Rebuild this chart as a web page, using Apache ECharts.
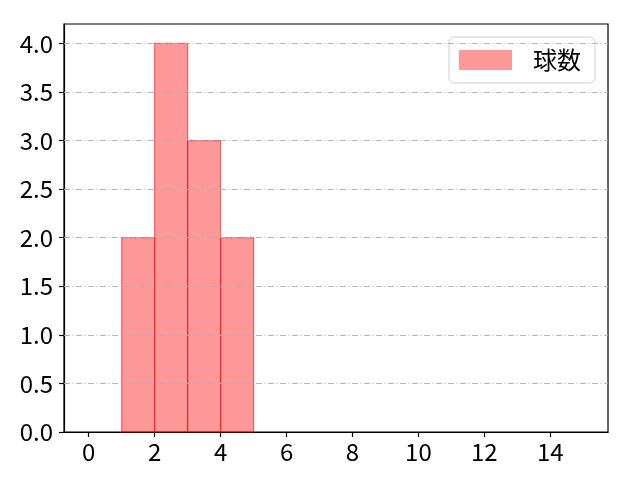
<!DOCTYPE html>
<html><head><meta charset="utf-8">
<script src="https://cdn.jsdelivr.net/npm/echarts@6/dist/echarts.min.js"></script>
<style>html,body{margin:0;padding:0;background:#fff}#c{width:640px;height:480px}</style>
</head><body><div id="c"></div>
<script>
var binStarts = [1, 2, 3, 4];
var binEnds = [2, 3, 4, 5];
var counts = [2, 4, 3, 2];
var xTicks = [0, 2, 4, 6, 8, 10, 12, 14];
var yTicks = [0, 0.5, 1.0, 1.5, 2.0, 2.5, 3.0, 3.5, 4.0];
var seriesName = '球数';

var FONT = 'Noto Sans CJK JP';
var data = binStarts.map(function (s, i) { return [s, binEnds[i], counts[i]]; });

var chart = echarts.init(document.getElementById('c'));
chart.setOption({
  animation: false,
  backgroundColor: '#fff',
  grid: { left: 64, right: 32, top: 24, bottom: 48, show: true, borderColor: '#000', borderWidth: 1.2, backgroundColor: 'transparent' },
  legend: {
    show: true, right: 45, top: 37,
    data: [{ name: seriesName, icon: 'rect' }],
    itemWidth: 53, itemHeight: 20, itemGap: 10,
    padding: [11, 14, 11, 10],
    borderColor: '#d0d0d0', borderWidth: 1, borderRadius: 5,
    backgroundColor: '#fff',
    textStyle: { fontFamily: FONT, fontSize: 24, color: '#000', padding: [0, 0, 0, 16] }
  },
  xAxis: {
    type: 'value', min: -0.75, max: 15.75,
    splitLine: { show: false },
    axisLine: { show: true, onZero: false, lineStyle: { color: '#000', width: 1.2 } },
    axisTick: { show: true, length: 5, lineStyle: { color: '#000', width: 1.2 }, customValues: xTicks },
    axisLabel: { show: true, fontFamily: FONT, fontSize: 24, color: '#000', margin: 8, customValues: xTicks, formatter: function (v) { return String(v); } }
  },
  yAxis: {
    type: 'value', min: 0, max: 4.2,
    splitLine: { show: false },
    axisLine: { show: true, onZero: false, lineStyle: { color: '#000', width: 1.2 } },
    axisTick: { show: true, length: 5, lineStyle: { color: '#000', width: 1.2 }, customValues: yTicks },
    axisLabel: { show: true, fontFamily: FONT, fontSize: 24, color: '#000', margin: 11, customValues: yTicks, formatter: function (v) { return v.toFixed(1); } }
  },
  series: [
    {
      type: 'line', name: '_grid', silent: true, data: [], legendHoverLink: false,
      markLine: {
        silent: true, symbol: 'none', label: { show: false },
        lineStyle: { color: '#b0b0b0', width: 0.9, type: [6, 2.5, 1, 2.5] },
        data: yTicks.filter(function (v) { return v > 0; }).map(function (v) { return { yAxis: v }; })
      }
    },
    {
      type: 'custom', name: seriesName,
      itemStyle: { color: 'rgba(255,0,0,0.4)', borderColor: 'rgba(255,0,0,0.55)' },
      renderItem: function (params, api) {
        var p0 = api.coord([api.value(0), api.value(2)]);
        var p1 = api.coord([api.value(1), 0]);
        return {
          type: 'rect',
          shape: { x: p0[0], y: p0[1], width: p1[0] - p0[0], height: p1[1] - p0[1] },
          style: { fill: 'rgba(255,0,0,0.4)', stroke: 'rgba(255,0,0,0.55)', lineWidth: 1.2 }
        };
      },
      encode: { x: [0, 1], y: 2 },
      data: data
    }
  ]
});
</script></body></html>
